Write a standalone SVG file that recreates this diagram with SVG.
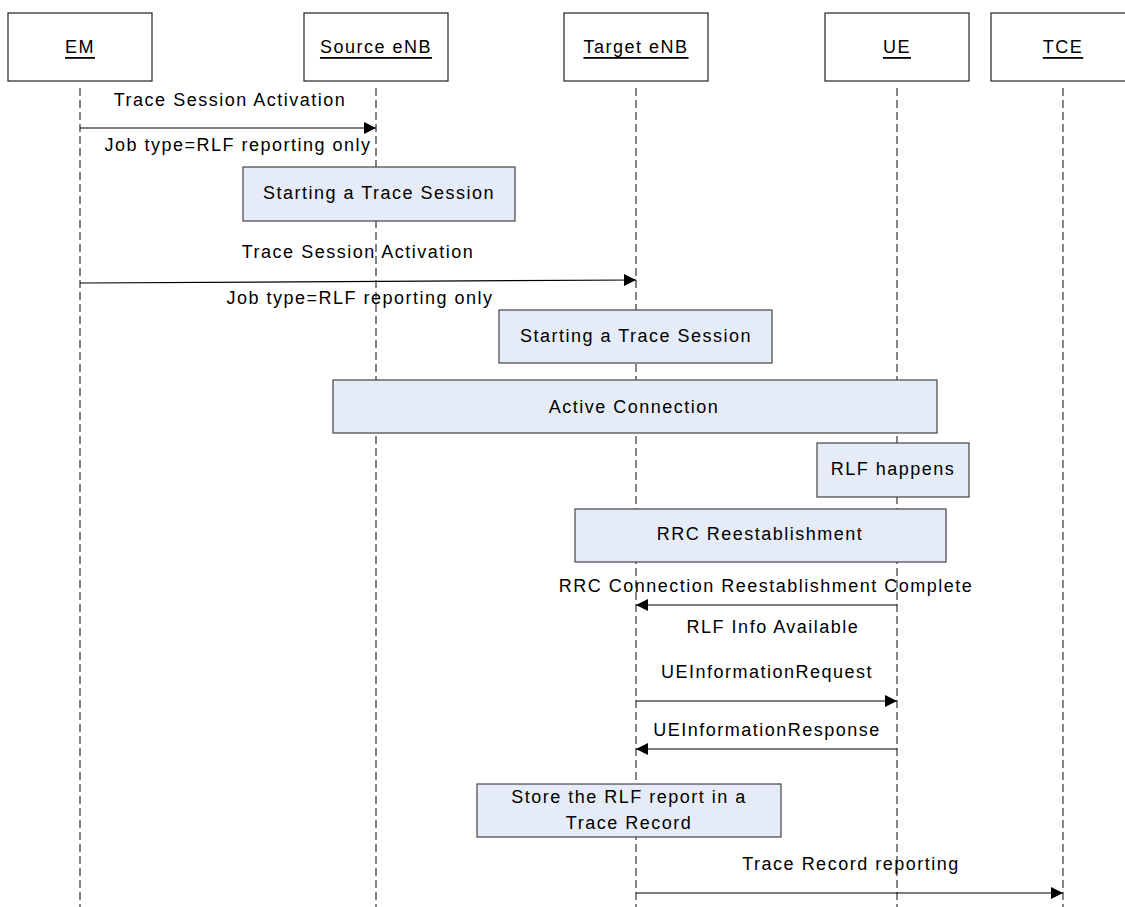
<svg xmlns="http://www.w3.org/2000/svg" width="1125" height="907" viewBox="0 0 1125 907">
<style>
text{font-family:"Liberation Sans",Arial,sans-serif;font-size:18px;fill:#000;letter-spacing:1.5px;text-anchor:middle;dominant-baseline:central}
.hdr{fill:#fff;stroke:#222;stroke-width:1.2}
.hdr-t{text-decoration:underline}
.act{fill:#e6ecf7;stroke:#444;stroke-width:1.2}
.life{stroke:#333;stroke-width:1.2;stroke-dasharray:8 4;fill:none}
.msg{stroke:#000;stroke-width:1.2;fill:none;marker-end:url(#ah)}
</style>
<defs>
<marker id="ah" markerUnits="userSpaceOnUse" markerWidth="14" markerHeight="12" refX="12" refY="6" orient="auto">
<path d="M0,0 L12,6 L0,12 Z" fill="#000"/>
</marker>
</defs>
<rect width="1125" height="907" fill="#fff"/>
<g id="lifelines">
<line class="life" x1="80" y1="88" x2="80" y2="907"/>
<line class="life" x1="376" y1="88" x2="376" y2="907"/>
<line class="life" x1="636" y1="88" x2="636" y2="907"/>
<line class="life" x1="897" y1="88" x2="897" y2="907"/>
<line class="life" x1="1063" y1="88" x2="1063" y2="907"/>
</g>
<g id="em"><rect class="hdr" x="8" y="13" width="144" height="68"/><text class="hdr-t" x="80" y="47">EM</text></g>
<g id="source-enb"><rect class="hdr" x="304" y="13" width="144" height="68"/><text class="hdr-t" x="376" y="47">Source eNB</text></g>
<g id="target-enb"><rect class="hdr" x="564" y="13" width="144" height="68"/><text class="hdr-t" x="636" y="47">Target eNB</text></g>
<g id="ue"><rect class="hdr" x="825" y="13" width="144" height="68"/><text class="hdr-t" x="897" y="47">UE</text></g>
<g id="tce"><rect class="hdr" x="991" y="13" width="144" height="68"/><text class="hdr-t" x="1063" y="47">TCE</text></g>
<g id="start1"><rect class="act" x="243" y="167" width="272" height="54"/><text x="379" y="193">Starting a Trace Session</text></g>
<g id="start2"><rect class="act" x="499" y="310" width="273" height="53"/><text x="636" y="336">Starting a Trace Session</text></g>
<g id="active"><rect class="act" x="333" y="380" width="604" height="53"/><text x="634" y="407">Active Connection</text></g>
<g id="rlf"><rect class="act" x="817" y="443" width="152" height="54"/><text x="893" y="469">RLF happens</text></g>
<g id="rrc"><rect class="act" x="575" y="509" width="371" height="53"/><text x="760" y="534">RRC Reestablishment</text></g>
<g id="store"><rect class="act" x="477" y="784" width="304" height="53"/><text x="629" y="797">Store the RLF report in a</text><text x="629" y="823">Trace Record</text></g>
<g id="connectors">
<line class="msg" x1="80" y1="128" x2="376" y2="128"/>
<text x="230" y="100">Trace Session Activation</text>
<text x="238" y="145">Job type=RLF reporting only</text>
<line class="msg" x1="80" y1="283" x2="636" y2="280"/>
<text x="358" y="252">Trace Session Activation</text>
<text x="360" y="298">Job type=RLF reporting only</text>
<line class="msg" x1="897" y1="605" x2="636" y2="605"/>
<text x="766" y="586">RRC Connection Reestablishment Complete</text>
<text x="773" y="627">RLF Info Available</text>
<line class="msg" x1="636" y1="701" x2="897" y2="701"/>
<text x="767" y="672">UEInformationRequest</text>
<line class="msg" x1="897" y1="749" x2="636" y2="749"/>
<text x="767" y="730">UEInformationResponse</text>
<line class="msg" x1="636" y1="893" x2="1063" y2="893"/>
<text x="851" y="864">Trace Record reporting</text>
</g>
</svg>
